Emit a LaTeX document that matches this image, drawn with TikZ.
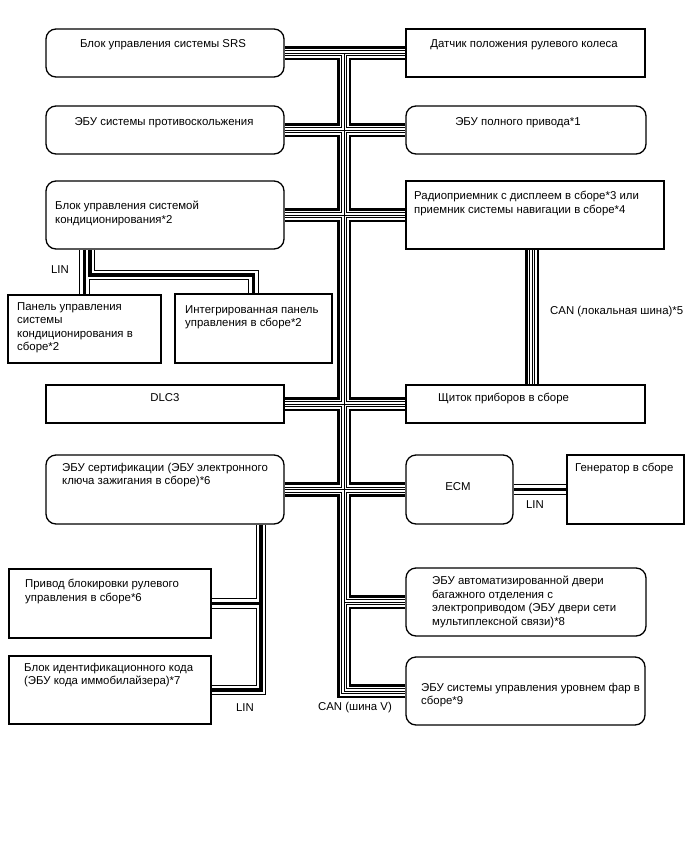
\documentclass[tikz,border=0pt]{standalone}
\usepackage{fontspec}
\setmainfont{Liberation Sans}
\usetikzlibrary{backgrounds}

\tikzset{
  blk/.style={draw,line width=1.3pt,fill=white,inner sep=0pt},
  rblk/.style={blk,rounded corners=10pt},
  txt/.style={inner sep=0pt,align=left,font=\fontsize{11.4}{13.5}\selectfont},
  canbus/.style={line width=14.5pt,
    postaction={draw=white,line width=9pt},
    postaction={draw,line width=6pt},
    postaction={draw=white,line width=4pt},
    postaction={draw,line width=1pt}},
  linbus/.style={line width=10.5pt,
    postaction={draw=white,line width=8.5pt},
    postaction={draw,line width=3.8pt}},
}

\begin{document}
\begin{tikzpicture}[x=1pt,y=-1pt]
  \useasboundingbox (0,0) rectangle (688,852);

  \node[rblk,minimum width=238pt,minimum height=48pt] (srs) at (165,53) {};
  \node[blk,minimum width=239pt,minimum height=48pt] (dat) at (525.5,53) {};
  \node[rblk,minimum width=238pt,minimum height=48pt] (abs) at (165,130) {};
  \node[rblk,minimum width=240pt,minimum height=48pt] (awd) at (526,130) {};
  \node[rblk,minimum width=238pt,minimum height=68pt] (ac) at (165,215) {};
  \node[blk,minimum width=258pt,minimum height=68pt] (radio) at (535,215) {};
  \node[blk,minimum width=153pt,minimum height=68pt] (pan) at (84.5,329) {};
  \node[blk,minimum width=157pt,minimum height=69pt] (integ) at (253.5,328.5) {};
  \node[blk,minimum width=238pt,minimum height=38pt] (dlc) at (165,404) {};
  \node[blk,minimum width=239pt,minimum height=38pt] (meter) at (525.5,404) {};
  \node[rblk,minimum width=238pt,minimum height=69pt] (cert) at (165,489.5) {};
  \node[rblk,minimum width=107pt,minimum height=69pt] (ecm) at (459.5,489.5) {};
  \node[blk,minimum width=117pt,minimum height=69pt] (gen) at (625.5,489.5) {};
  \node[blk,minimum width=202pt,minimum height=69pt] (lock) at (110,603.5) {};
  \node[blk,minimum width=202pt,minimum height=68pt] (immo) at (110,690) {};
  \node[rblk,minimum width=240pt,minimum height=68pt] (door) at (526,602) {};
  \node[rblk,minimum width=239pt,minimum height=68pt] (hl) at (525.5,691) {};

  \node[txt,anchor=north] (srs-t) at (163,39) {Блок управления системы SRS};
  \node[txt,anchor=north] (dat-t) at (524,39) {Датчик положения рулевого колеса};
  \node[txt,anchor=north] (abs-t) at (164,117) {ЭБУ системы противоскольжения};
  \node[txt,anchor=north] (awd-t) at (518,117) {ЭБУ полного привода*1};
  \node[txt,anchor=north west] (ac-t) at (55,201) {Блок управления системой\\кондиционирования*2};
  \node[txt,anchor=north west] (radio-t) at (414,191) {Радиоприемник с дисплеем в сборе*3 или\\приемник системы навигации в сборе*4};
  \node[txt,anchor=north west] (pan-t) at (17,302) {Панель управления\\системы\\кондиционирования в\\сборе*2};
  \node[txt,anchor=north west] (integ-t) at (185,305) {Интегрированная панель\\управления в сборе*2};
  \node[txt,anchor=north] (dlc-t) at (165,393) {DLC3};
  \node[txt,anchor=north west] (meter-t) at (438,393) {Щиток приборов в сборе};
  \node[txt,anchor=north west] (cert-t) at (62,463) {ЭБУ сертификации (ЭБУ электронного\\ключа зажигания в сборе)*6};
  \node[txt] (ecm-t) at (458,487) {ECM};
  \node[txt,anchor=north west] (gen-t) at (575,463) {Генератор в сборе};
  \node[txt,anchor=north west] (lock-t) at (25,579) {Привод блокировки рулевого\\управления в сборе*6};
  \node[txt,anchor=north west] (immo-t) at (24,663) {Блок идентификационного кода\\(ЭБУ кода иммобилайзера)*7};
  \node[txt,anchor=north west] (door-t) at (432,576) {ЭБУ автоматизированной двери\\багажного отделения с\\электроприводом (ЭБУ двери сети\\мультиплексной связи)*8};
  \node[txt,anchor=north west] (hl-t) at (421,683) {ЭБУ системы управления уровнем фар в\\сборе*9};

  \node[txt] (lin-ac) at (60,270) {LIN};
  \node[txt,anchor=west] (can-loc) at (550,312) {CAN (локальная шина)*5};
  \node[txt] (lin-gen) at (535,505) {LIN};
  \node[txt] (lin-immo) at (245,708) {LIN};
  \node[txt] (can-v) at (355,708) {CAN (шина V)};

  \begin{scope}[on background layer]
    \coordinate (bus) at (344,0);
    \draw[canbus] (srs.east) -- (dat.west)
      (abs.east) -- (awd.west)
      (ac.east) -- (radio.west)
      (dlc.east) -- (meter.west)
      (cert.east) -- (ecm.west)
      (bus |- srs.east) -- (bus |- hl.west) -- (hl.west)
      (bus |- door.west) -- (door.west);
    \coordinate (loc) at (532,0);
    \draw[canbus] (loc |- radio.south) -- (loc |- meter.north);
    \coordinate (lina) at (90,275);
    \draw[linbus] (ac.south -| pan.north) -- (pan.north)
      (ac.south -| lina) -- (lina) -| (integ.north);
    \coordinate (linb) at (261,0);
    \draw[linbus] (linb |- cert.south) -- (linb |- immo.east) -- (immo.east)
      (linb |- lock.east) -- (lock.east);
    \draw[linbus] (ecm.east) -- (gen.west);
  \end{scope}
\end{tikzpicture}
\end{document}
